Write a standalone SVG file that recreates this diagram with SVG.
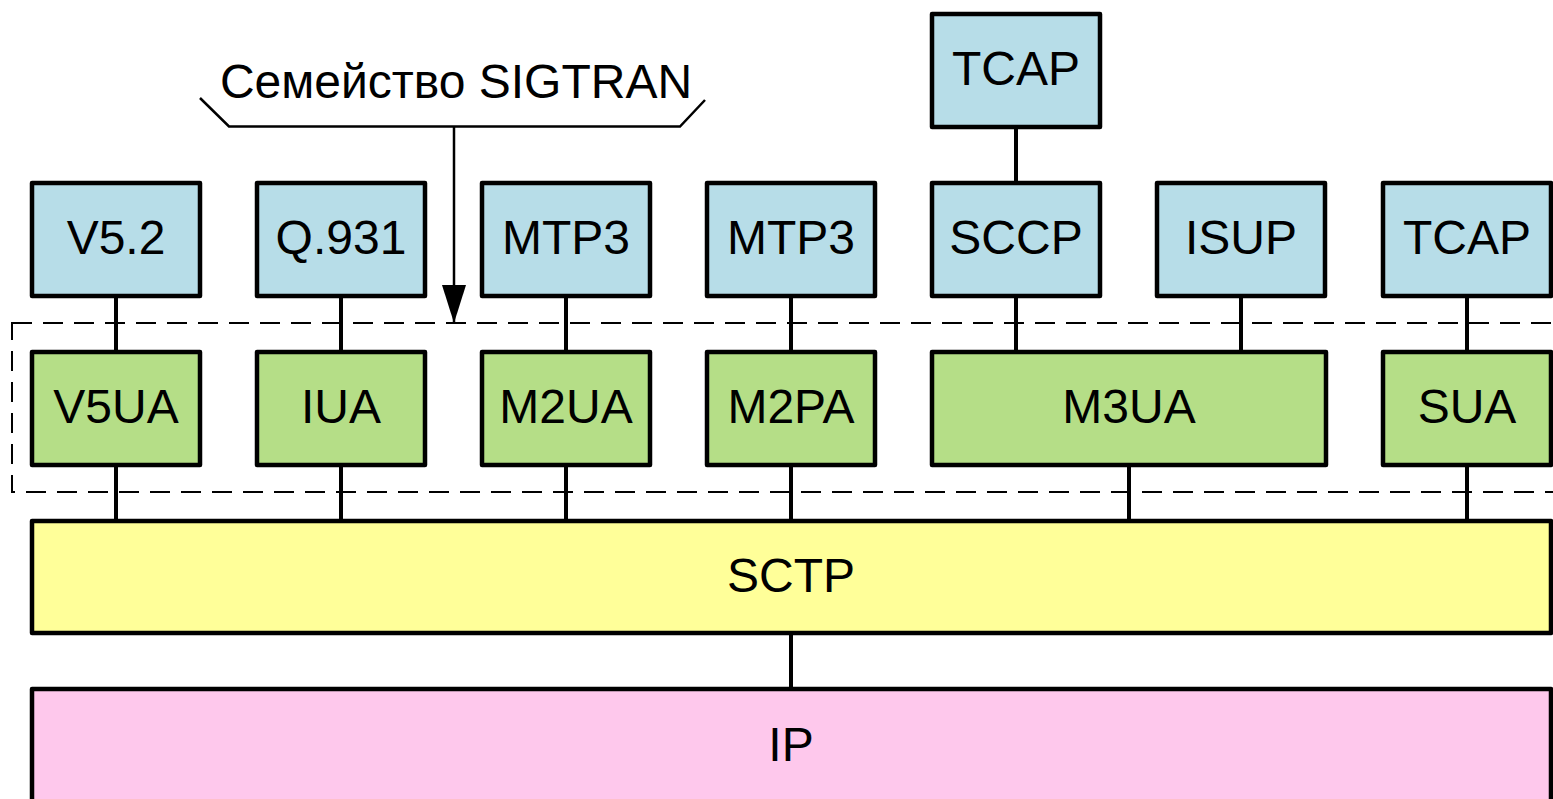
<svg xmlns="http://www.w3.org/2000/svg" width="1553" height="799" viewBox="0 0 1553 799">
<defs>
<style>
.b{fill:#B7DDE8;stroke:#000;stroke-width:4.5;stroke-linejoin:round}
.g{fill:#B5DE87;stroke:#000;stroke-width:4.5;stroke-linejoin:round}
.y{fill:#FFFF99;stroke:#000;stroke-width:4.5;stroke-linejoin:round}
.p{fill:#FEC8EC;stroke:#000;stroke-width:4.5;stroke-linejoin:round}
.t{font-family:"Liberation Sans",Arial,sans-serif;font-size:48px;fill:#000;text-anchor:middle}
.c{stroke:#000;stroke-width:4;fill:none}
</style>
<marker id="arr" markerWidth="38" markerHeight="24" refX="38" refY="12" orient="auto" markerUnits="userSpaceOnUse" viewBox="0 0 38 24">
<path d="M0,0 L38,12 L0,24 Z" fill="#000"/>
</marker>
</defs>
<rect width="1553" height="799" fill="#fff"/>
<g id="family">
<rect x="12" y="323" width="1560" height="169" fill="none" stroke="#000" stroke-width="2" stroke-dasharray="20,11"/>
<path d="M200,98 L229,126.5 L680,126.5 L705,100" fill="none" stroke="#000" stroke-width="2.5"/>
<text class="t" x="456" y="98">Семейство SIGTRAN</text>
</g>
<g id="connectors">
<line class="c" x1="1016" y1="127" x2="1016" y2="183"/>
<line class="c" x1="116" y1="296" x2="116" y2="352"/>
<line class="c" x1="341" y1="296" x2="341" y2="352"/>
<line class="c" x1="566" y1="296" x2="566" y2="352"/>
<line class="c" x1="791" y1="296" x2="791" y2="352"/>
<line class="c" x1="1016" y1="296" x2="1016" y2="352"/>
<line class="c" x1="1241" y1="296" x2="1241" y2="352"/>
<line class="c" x1="1467" y1="296" x2="1467" y2="352"/>
<line class="c" x1="116" y1="465" x2="116" y2="521"/>
<line class="c" x1="341" y1="465" x2="341" y2="521"/>
<line class="c" x1="566" y1="465" x2="566" y2="521"/>
<line class="c" x1="791" y1="465" x2="791" y2="521"/>
<line class="c" x1="1129" y1="465" x2="1129" y2="521"/>
<line class="c" x1="1467" y1="465" x2="1467" y2="521"/>
<line class="c" x1="791" y1="633" x2="791" y2="689"/>
<line x1="454" y1="127" x2="454" y2="323" stroke="#000" stroke-width="2.5" marker-end="url(#arr)"/>
</g>
<g id="tcap-top"><rect class="b" x="932" y="14" width="168" height="113"/><text class="t" x="1016" y="85">TCAP</text></g>
<g id="v52"><rect class="b" x="32" y="183" width="168" height="113"/><text class="t" x="116" y="254">V5.2</text></g>
<g id="q931"><rect class="b" x="257" y="183" width="168" height="113"/><text class="t" x="341" y="254">Q.931</text></g>
<g id="mtp3a"><rect class="b" x="482" y="183" width="168" height="113"/><text class="t" x="566" y="254">MTP3</text></g>
<g id="mtp3b"><rect class="b" x="707" y="183" width="168" height="113"/><text class="t" x="791" y="254">MTP3</text></g>
<g id="sccp"><rect class="b" x="932" y="183" width="168" height="113"/><text class="t" x="1016" y="254">SCCP</text></g>
<g id="isup"><rect class="b" x="1157" y="183" width="168" height="113"/><text class="t" x="1241" y="254">ISUP</text></g>
<g id="tcap"><rect class="b" x="1383" y="183" width="168" height="113"/><text class="t" x="1467" y="254">TCAP</text></g>
<g id="v5ua"><rect class="g" x="32" y="352" width="168" height="113"/><text class="t" x="116" y="423">V5UA</text></g>
<g id="iua"><rect class="g" x="257" y="352" width="168" height="113"/><text class="t" x="341" y="423">IUA</text></g>
<g id="m2ua"><rect class="g" x="482" y="352" width="168" height="113"/><text class="t" x="566" y="423">M2UA</text></g>
<g id="m2pa"><rect class="g" x="707" y="352" width="168" height="113"/><text class="t" x="791" y="423">M2PA</text></g>
<g id="m3ua"><rect class="g" x="932" y="352" width="394" height="113"/><text class="t" x="1129" y="423">M3UA</text></g>
<g id="sua"><rect class="g" x="1383" y="352" width="168" height="113"/><text class="t" x="1467" y="423">SUA</text></g>
<g id="sctp"><rect class="y" x="32" y="521" width="1519" height="112"/><text class="t" x="791" y="592">SCTP</text></g>
<g id="ip"><rect class="p" x="32" y="689" width="1519" height="140"/><text class="t" x="791" y="761">IP</text></g>
</svg>
